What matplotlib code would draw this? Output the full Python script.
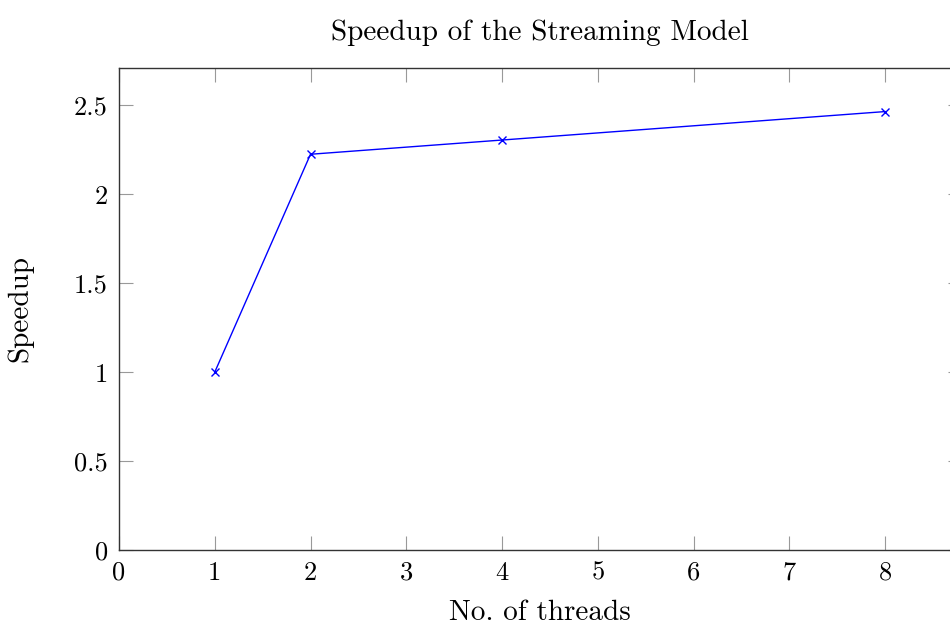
import matplotlib
matplotlib.use("Agg")
import matplotlib.pyplot as plt

# thread counts and measured speedup
threads = [1, 2, 4, 8]
speedup = [1.0, 2.225, 2.305, 2.465]
xticks = [0, 1, 2, 3, 4, 5, 6, 7, 8]
yticks = [0, 0.5, 1, 1.5, 2, 2.5]

plt.rcParams['font.family'] = 'serif'
plt.rcParams['font.serif'] = ['cmr10', 'DejaVu Serif']
plt.rcParams['mathtext.fontset'] = 'cm'
plt.rcParams['axes.formatter.use_mathtext'] = True

fig = plt.figure(figsize=(9.5, 6.25), dpi=100)
ax = fig.add_axes([119 / 950, 75 / 625, 8.8 * 95.75 / 950, 482 / 625])

ax.plot(threads, speedup, color='blue', linewidth=1.0, marker='x',
        markersize=6, markeredgewidth=1.0)

ax.set_xlim(0, 8.8)
ax.set_ylim(0, 2.71)
ax.set_xticks(xticks)
ax.set_yticks(yticks)
ax.set_xticklabels([str(t) for t in xticks])
ax.set_yticklabels(['0', '0.5', '1', '1.5', '2', '2.5'])

ax.tick_params(direction='in', length=10, width=0.8, color='#999999',
               labelsize=19, top=True, right=True, pad=8)
for s in ax.spines.values():
    s.set_linewidth(1.0)
    s.set_color('#333333')

ax.set_title('Speedup of the Streaming Model', fontsize=21, pad=20)
ax.set_xlabel('No. of threads', fontsize=21, labelpad=11)
ax.set_ylabel('Speedup', fontsize=21, labelpad=29)

fig.savefig('out.png', dpi=100)
